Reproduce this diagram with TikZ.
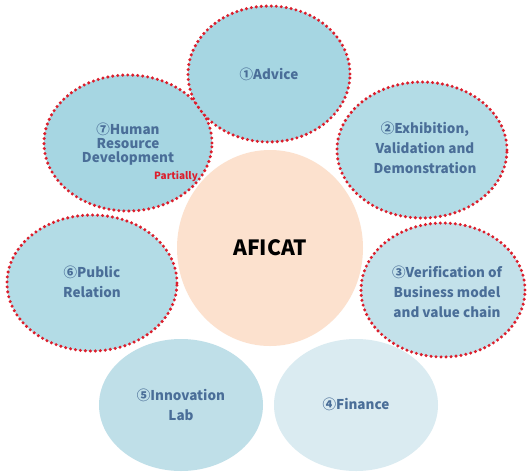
\documentclass[tikz,border=0pt]{standalone}
\usepackage{fontspec}
\setmainfont{Noto Sans CJK JP}
\usetikzlibrary{shapes.geometric}
\definecolor{peach}{HTML}{FCE1CE}
\definecolor{satA}{HTML}{A6D6E2}
\definecolor{satB}{HTML}{B3DCE6}
\definecolor{satC}{HTML}{C3E1EA}
\definecolor{satD}{HTML}{BFDFE8}
\definecolor{satE}{HTML}{DAEBF1}
\definecolor{txtblue}{HTML}{4A6E98}
\definecolor{dotred}{HTML}{DC1E2C}
\tikzset{
  sat/.style={ellipse, inner sep=0pt, minimum width=#1},
  dotted border/.style={draw=dotred, line width=3.4pt, line cap=round, dash pattern=on 0pt off 5pt},
  lbl/.style={text=txtblue, font=\fontsize{13.5}{20}\selectfont\bfseries, align=center, inner sep=0pt},
  lbltight/.style={text=txtblue, font=\fontsize{13.5}{14}\selectfont\bfseries, align=center, inner sep=0pt}
}
\begin{document}
\begin{tikzpicture}[x=1pt,y=-1pt]
\useasboundingbox[fill=white] (0,0) rectangle (527,472);
% centre
\node[sat=186pt, minimum height=196pt, fill=peach] (core) at (270,248) {};
\node[font=\fontsize{21}{22}\selectfont\bfseries, text=black, inner sep=0pt] (coretext) at (core) {AFICAT};
% non-dotted satellites
\node[sat=164pt, minimum height=132pt, fill=satD] (lab) at (181,405) {};
\node[sat=164pt, minimum height=132pt, fill=satE] (fin) at (356,405) {};
% dotted satellites
\node[sat=168pt, minimum height=136pt, fill=satA, dotted border] (hr) at (128,143) {};
\node[sat=162pt, minimum height=136pt, fill=satA, dotted border] (adv) at (269,74) {};
\node[sat=170pt, minimum height=136pt, fill=satB, dotted border] (exh) at (422,150) {};
\node[sat=170pt, minimum height=136pt, fill=satB, dotted border] (pr) at (92,283) {};
\node[sat=164pt, minimum height=134pt, fill=satC, dotted border] (ver) at (443,290) {};
% labels
\node[lbl] (advt) at (adv) {①Advice};
\node[lbltight] (hrt) at ([yshift=-1pt]hr) {⑦Human\\Resource\\Development};
\node[text=dotred, font=\fontsize{10}{11}\selectfont\bfseries, inner sep=0pt] (part) at (176,176) {Partially};
\node[lbl] (exht) at ([xshift=3pt,yshift=2pt]exh) {②Exhibition,\\Validation and\\Demonstration};
\node[lbl] (vert) at ([xshift=4pt,yshift=-2pt]ver) {③Verification of\\Business model\\and value chain};
\node[lbl] (prt) at ([yshift=1pt]pr) {⑥Public\\Relation};
\node[lbl] (labt) at (lab) {⑤Innovation\\Lab};
\node[lbl] (fint) at ([yshift=1pt]fin) {④Finance};
\end{tikzpicture}
\end{document}
